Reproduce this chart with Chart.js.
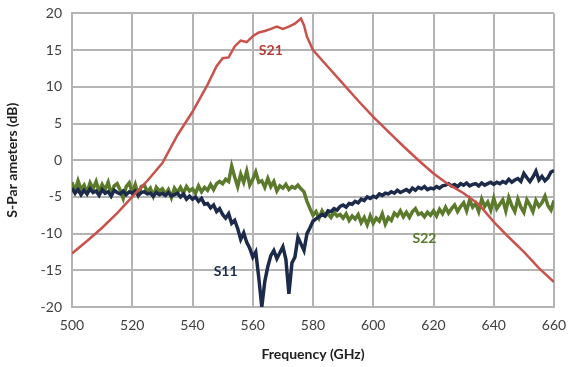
<!DOCTYPE html>
<html>
<head>
<meta charset="utf-8">
<script src="https://cdn.jsdelivr.net/npm/chart.js@4/dist/chart.umd.min.js"></script>
<style>
  html, body { margin: 0; padding: 0; background: #fff; }
  #outer { width: 577px; height: 367px; overflow: hidden; }
  #wrap { width: 577px; height: 372px; margin-top: -5px; }
</style>
</head>
<body>
<div id="outer"><div id="wrap"><canvas id="sparams"></canvas></div></div>
<script>
// frequency grid for the measured S11 / S22 traces (GHz)
const freqs = [];
for (let f = 500; f <= 660; f++) freqs.push(f);

const s11 = [
  -3.8, -4.5, -4.0, -4.7, -4.1, -4.6, -3.9, -4.4, -4.2, -4.8,
  -4.0, -4.5, -4.3, -4.9, -4.1, -4.4, -4.6, -4.2, -4.7, -4.3,
  -4.5, -4.2, -4.8, -4.4, -4.3, -4.6, -4.5, -4.9, -4.4, -4.7,
  -4.5, -4.8, -4.4, -4.9, -4.7, -4.5, -5.0, -4.6, -5.3, -4.9,
  -5.3, -5.0, -5.6, -5.2, -6.0, -5.9, -6.5, -6.1, -7.0, -6.6,
  -7.4, -7.9, -7.3, -8.6, -8.2, -9.3, -10.8, -9.9, -11.2, -12.0,
  -13.2, -12.5, -16.0, -20.0, -16.5, -14.5, -13.0, -12.3, -13.4, -12.6,
  -11.8, -13.5, -18.2, -14.0, -13.2, -10.5, -11.4, -12.3, -10.0, -9.2,
  -8.3, -8.0, -7.7, -7.4, -7.6, -6.9, -7.0, -6.6, -6.8, -6.3,
  -6.1, -6.4, -5.9, -6.0, -5.6, -5.8, -5.3, -5.5, -5.0, -5.2,
  -4.9, -5.1, -4.6, -4.8, -4.5, -4.6, -4.3, -4.5, -4.1, -4.4,
  -4.2, -4.0, -4.3, -3.8, -4.1, -3.7, -3.9, -3.6, -4.0, -3.8,
  -3.9, -3.6, -3.8, -3.5, -3.4, -3.2, -3.5, -3.3, -3.6, -3.2,
  -3.4, -3.1, -3.5, -3.3, -3.2, -3.5, -3.1, -3.4, -3.2, -3.0,
  -3.3, -3.0, -3.2, -2.9, -3.1, -2.6, -3.0, -2.7, -2.5, -2.9,
  -1.8, -2.4, -2.9, -2.3, -1.5, -2.7, -2.2, -2.8, -2.4, -1.6,
  -1.4
];

const s22 = [
  -3.0, -4.2, -2.8, -4.0, -3.4, -4.4, -3.1, -3.9, -2.9, -4.3,
  -3.3, -4.0, -3.0, -4.6, -3.5, -3.2, -4.1, -5.2, -3.6, -3.1,
  -4.4, -3.3, -4.7, -3.6, -3.4, -4.3, -3.8, -4.9, -3.7, -4.2,
  -3.9, -4.6, -4.0, -5.1, -3.8, -4.4, -3.7, -4.5, -3.6, -4.2,
  -3.9, -4.5, -3.5, -4.3, -3.7, -4.1, -3.3, -4.0, -3.2, -2.9,
  -3.2, -2.6, -2.9, -0.8, -2.3, -3.6, -1.9, -3.0, -1.5, -3.4,
  -2.6, -1.6, -3.0, -2.8, -3.7, -2.5, -3.6, -2.9, -4.2, -3.5,
  -3.8, -3.3, -4.0, -3.6, -3.8, -3.4, -3.9, -4.3, -5.6, -6.6,
  -7.5, -7.0, -7.9, -6.9, -7.6, -7.3, -7.8, -7.1, -7.6, -7.4,
  -7.9, -7.3, -8.2, -7.6, -8.0, -7.4, -8.5, -7.8, -8.8, -7.6,
  -8.6, -7.9, -8.3, -7.3, -8.7, -7.8, -8.2, -7.2, -7.6, -6.9,
  -7.7, -7.1, -7.8, -7.0, -6.6, -7.4, -7.2, -7.7, -7.1, -7.5,
  -6.9, -7.6, -6.7, -7.3, -6.4, -7.2, -6.6, -6.1, -7.0, -6.3,
  -5.8, -6.9, -5.4, -6.4, -5.9, -7.0, -5.3, -6.3, -5.7, -6.8,
  -5.2, -6.6, -6.0, -5.4, -6.9, -5.1, -6.2, -7.0, -5.3, -6.4,
  -7.1, -5.4, -6.1, -7.0, -5.5, -6.3, -5.8, -4.9, -6.2, -6.8,
  -5.5
];

// S21 read at these frequencies
const s21Freq = [500, 505, 510, 515, 520, 525, 530, 535, 540, 545, 548, 550, 552, 554, 556, 558,
  560, 562, 564, 566, 568, 570, 572, 574, 576, 577, 578, 580, 585, 590, 595, 600, 605, 610,
  615, 620, 625, 630, 635, 640, 645, 650, 655, 660];
const s21 = [-12.7, -11.0, -9.2, -7.2, -5.0, -2.8, -0.4, 3.4, 6.6, 10.3, 12.8, 13.9, 14.0, 15.5, 16.3, 16.1,
  16.9, 17.4, 17.6, 17.9, 18.2, 17.9, 18.2, 18.6, 19.3, 18.4, 16.8, 15.0, 12.7, 10.4, 8.1, 5.9, 3.9, 1.9,
  0.0, -1.8, -3.3, -4.5, -6.0, -8.4, -10.5, -12.5, -14.7, -16.6];

const xTicks = [500, 520, 540, 560, 580, 600, 620, 640, 660];
const yTicks = [-20, -15, -10, -5, 0, 5, 10, 15, 20];

// series labels placed in data coordinates
const seriesLabels = [
  { text: "S21", x: 566, y: 15.0, color: "#b83b36" },
  { text: "S11", x: 551, y: -15.2, color: "#1c2b4a" },
  { text: "S22", x: 617, y: -10.6, color: "#5b7a2c" }
];

const pts = (xs, ys) => xs.map((x, i) => ({ x: x, y: ys[i] }));

const labelPlugin = {
  id: "seriesLabels",
  afterDatasetsDraw(chart) {
    const ctx = chart.ctx;
    const xs = chart.scales.x, ys = chart.scales.y;
    ctx.save();
    ctx.font = "bold 14px Lato";
    ctx.textAlign = "center";
    ctx.textBaseline = "middle";
    seriesLabels.forEach((l) => {
      ctx.fillStyle = l.color;
      ctx.fillText(l.text, xs.getPixelForValue(l.x), ys.getPixelForValue(l.y));
    });
    ctx.restore();
  }
};

new Chart(document.getElementById("sparams"), {
  type: "line",
  data: {
    datasets: [
      {
        label: "S21",
        data: pts(s21Freq, s21),
        borderColor: "#c9524c",
        borderWidth: 2.5
      },
      {
        label: "S11",
        data: pts(freqs, s11),
        borderColor: "#1c2b4a",
        borderWidth: 3.5
      },
      {
        label: "S22",
        data: pts(freqs, s22),
        borderColor: "#5b7a2c",
        borderWidth: 3.5
      }
    ]
  },
  options: {
    responsive: true,
    maintainAspectRatio: false,
    animation: false,
    elements: { point: { radius: 0 }, line: { tension: 0 } },
    layout: { padding: { top: 8, right: 23, left: 0, bottom: 0 } },
    plugins: { legend: { display: false }, tooltip: { enabled: false } },
    scales: {
      x: {
        type: "linear",
        min: 500,
        max: 660,
        afterBuildTicks: (s) => { s.ticks = xTicks.map((v) => ({ value: v })); },
        afterFit: (s) => { s.height = 60; },
        grid: { color: "#b4b4b4", lineWidth: 2, drawTicks: false },
        border: { color: "#b4b4b4", width: 2 },
        ticks: { color: "#404040", font: { family: "Lato", size: 14 }, padding: 10, maxRotation: 0 },
        title: {
          display: true,
          text: "Frequency (GHz)",
          color: "#202020",
          font: { family: "Lato", size: 14, weight: "bold" },
          padding: { top: 4 }
        }
      },
      y: {
        min: -20,
        max: 20,
        afterBuildTicks: (s) => { s.ticks = yTicks.map((v) => ({ value: v })); },
        afterFit: (s) => { s.width = 72; },
        grid: { color: "#b4b4b4", lineWidth: 2, drawTicks: false },
        border: { color: "#b4b4b4", width: 2 },
        ticks: { color: "#404040", font: { family: "Lato", size: 14 }, padding: 10 },
        title: {
          display: true,
          text: "S-Par ameters (dB)",
          color: "#202020",
          font: { family: "Lato", size: 14, weight: "bold" },
          padding: { bottom: 4 }
        }
      }
    }
  },
  plugins: [labelPlugin]
});
</script>
</body>
</html>
